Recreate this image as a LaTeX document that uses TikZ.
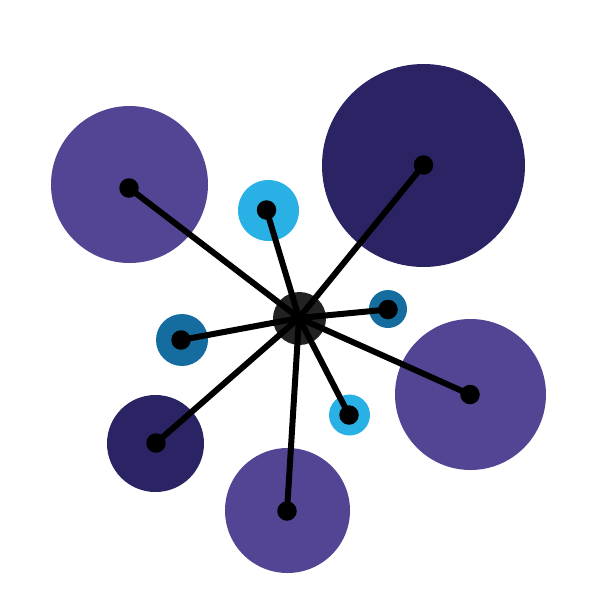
\documentclass[tikz,border=0pt]{standalone}
\definecolor{cpurple}{HTML}{534594}
\definecolor{cnavy}{HTML}{2B2464}
\definecolor{clight}{HTML}{29B0E4}
\definecolor{cteal}{HTML}{146C9F}
\definecolor{ccenter}{HTML}{222222}
\begin{document}
\begin{tikzpicture}[x=1pt,y=-1pt,
  blob/.style={circle,inner sep=0pt,minimum size=#1,fill},
  dot/.style={circle,inner sep=0pt,minimum size=19.5pt,fill=black},
  spoke/.style={line width=6pt,black}]
\useasboundingbox (0,0) rectangle (600,600);
% background circles
\node[blob=157pt,fill=cpurple] (b1) at (129.5,184.5) {};
\node[blob=203pt,fill=cnavy] (b2) at (423.5,165.5) {};
\node[blob=61pt,fill=clight] (b3) at (268.5,210.5) {};
\node[blob=38pt,fill=cteal] (b4) at (388,309) {};
\node[blob=52pt,fill=cteal] (b5) at (182,340) {};
\node[blob=151pt,fill=cpurple] (b6) at (470.5,394.5) {};
\node[blob=41pt,fill=clight] (b7) at (349.5,415) {};
\node[blob=97pt,fill=cnavy] (b8) at (155.5,443.5) {};
\node[blob=125pt,fill=cpurple] (b9) at (287.5,510.5) {};
\node[blob=53pt,fill=ccenter] (hub) at (299.5,318.5) {};
\coordinate (c) at (299,318);
% dots
\coordinate (d1) at (129,188);
\coordinate (d2) at (423.5,165);
\coordinate (d3) at (266.5,210);
\coordinate (d4) at (388,309.5);
\coordinate (d5) at (181,340);
\coordinate (d6) at (470,394.5);
\coordinate (d7) at (349,415);
\coordinate (d8) at (156,443);
\coordinate (d9) at (287,511);
\foreach \i in {1,...,9} \draw[spoke] (c) -- (d\i);
\foreach \i in {1,...,9} \node[dot] (n\i) at (d\i) {};
\end{tikzpicture}
\end{document}
